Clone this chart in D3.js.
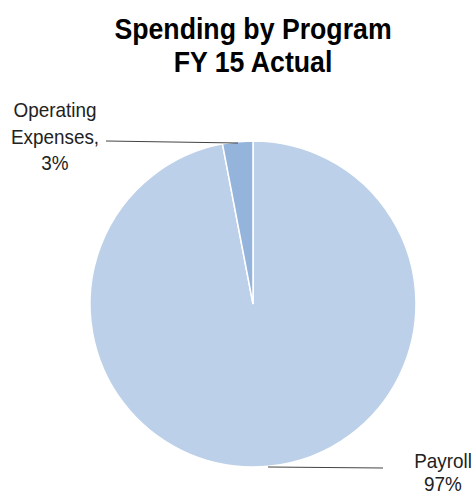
<!DOCTYPE html>
<html><head><meta charset="utf-8">
<script src="https://cdn.jsdelivr.net/npm/d3@7"></script>
<style>body{margin:0;background:#fff}svg{display:block}</style>
</head><body>
<script>
const categories = ["Payroll", "Operating Expenses"];
const values = [97, 3];
const labels = [["Payroll", "97%"], ["Operating", "Expenses,", "3%"]];
const colors = ["#BCD0E9", "#95B4DC"];
const titleLines = ["Spending by Program", "FY 15 Actual"];

const W = 474, H = 495;
const svg = d3.select("body").append("svg").attr("width", W).attr("height", H);
const font = "'Liberation Sans Narrow', 'Arial Narrow', 'Liberation Sans', Arial, sans-serif";

function narrowText(x, y, txt, size, sx, weight) {
  return svg.append("text")
    .attr("transform", `translate(${x},${y}) scale(${sx},1)`)
    .attr("text-anchor", "middle").attr("font-family", font)
    .attr("font-weight", weight || "normal").attr("font-size", size)
    .attr("fill", weight ? "#000" : "#222").text(txt);
}

titleLines.forEach((t, i) => narrowText(253, 39 + i * 33, t, 30, 0.89, "bold"));

const cx = 253, cy = 304, r = 163;
const pie = d3.pie().sort(null).value(d => d);
const arcs = pie(values);
const arc = d3.arc().innerRadius(0).outerRadius(r);
const g = svg.append("g").attr("transform", `translate(${cx},${cy})`);
g.selectAll("path").data(arcs).enter().append("path")
  .attr("d", arc).attr("fill", (d, i) => colors[i])
  .attr("stroke", "#fff").attr("stroke-width", 1.5);

// leader lines
const lines = [
  [[268, 467], [383, 468]],
  [[238, 143], [106, 141]]
];
svg.selectAll("line.leader").data(lines).enter().append("line")
  .attr("x1", d => d[0][0]).attr("y1", d => d[0][1])
  .attr("x2", d => d[1][0]).attr("y2", d => d[1][1])
  .attr("stroke", "#444").attr("stroke-width", 1.2);

labels[0].forEach((t, i) => narrowText(443, 468 + i * 23, t, 21, 0.9));
labels[1].forEach((t, i) => narrowText(55, 117 + i * 26.5, t, 21, 0.9));
</script>
</body></html>
